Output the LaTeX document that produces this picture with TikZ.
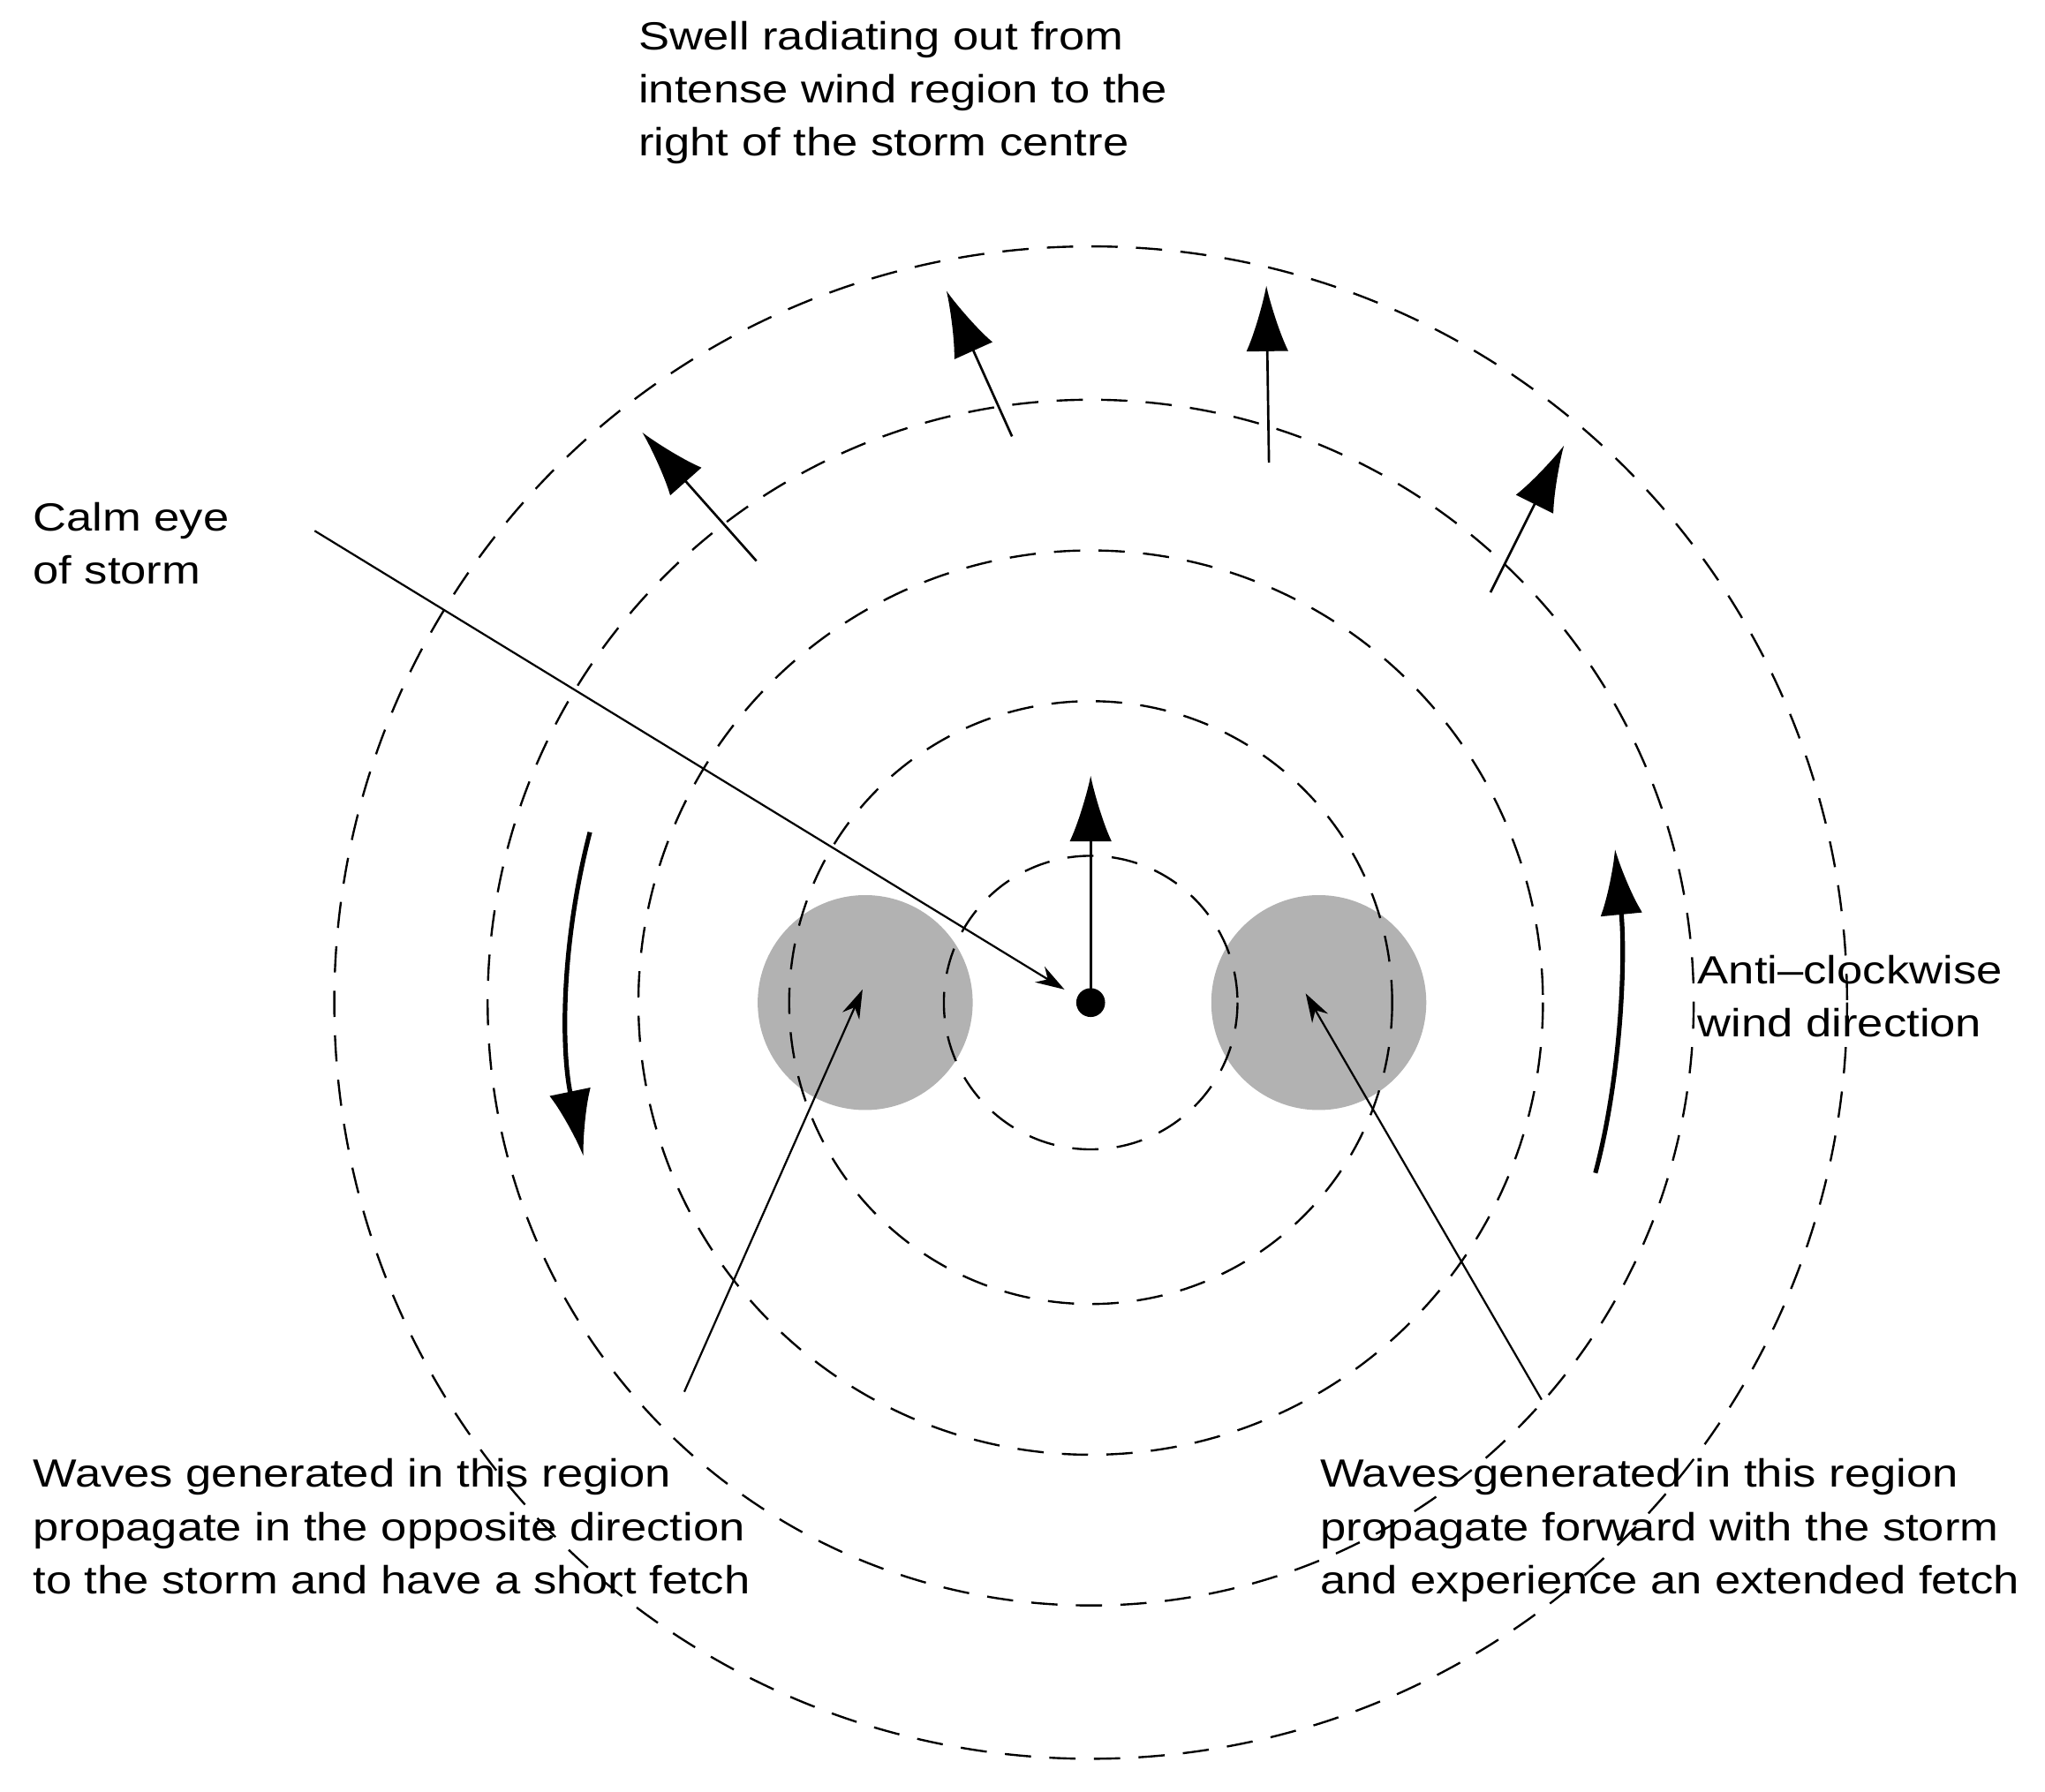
\documentclass[tikz,border=0pt]{standalone}
\usepackage{fontspec}
\setmainfont{Liberation Sans}[FakeStretch=1.18]
\usetikzlibrary{arrows.meta}
\begin{document}
\begin{tikzpicture}[x=1pt,y=-1pt,
  ring/.style={draw,line width=1.6pt,dash pattern=on 20pt off 14pt},
  big/.style={line width=1.8pt,-{Latex[length=50pt,width=32pt]}},
  curv/.style={line width=3.5pt,-{Latex[length=50pt,width=32pt]}},
  lead/.style={line width=1.5pt,-{Stealth[length=22pt,width=14pt]}},
  lab/.style={align=left,anchor=north west,inner sep=0pt,font=\fontsize{30}{40.5}\selectfont}]
\useasboundingbox (0,0) rectangle (1560,1366.7);
\coordinate (c) at (832,765);
\coordinate (g1) at (660,765); \coordinate (g2) at (1006,765);
\fill[gray!60] (g1) circle (82);
\fill[gray!60] (g2) circle (82);
\foreach \r in {112,230,345,460,577} \draw[ring] (c) circle (\r);
\fill (c) circle (11);
% swell arrows
\coordinate (a1) at (577,428); \coordinate (b1) at (490,330);
\coordinate (a2) at (772,333); \coordinate (b2) at (722,222);
\coordinate (a3) at (968,353); \coordinate (b3) at (966,218);
\coordinate (a4) at (1137,452); \coordinate (b4) at (1193,340);
\foreach \i in {1,...,4} \draw[big] (a\i) -- (b\i);
\coordinate (up) at (832,592);
\draw[big] (c) -- (up);
% wind arrows
\coordinate (l1) at (450,635); \coordinate (l2) at (445,882);
\draw[curv] (l1) .. controls (428,720) and (428,800) .. (l2);
\coordinate (r1) at (1217,895); \coordinate (r2) at (1232,648);
\draw[curv] (r1) .. controls (1237,820) and (1240,730) .. (r2);
% labels
\node[lab] (t1) at (487,16) {Swell radiating out from\\intense wind region to the\\right of the storm centre};
\node[lab] (t2) at (25,383) {Calm eye\\of storm};
\node[lab] (t3) at (1295,729) {Anti\textendash clockwise\\wind direction};
\node[lab] (t4) at (25,1113) {Waves generated in this region\\propagate in the opposite direction\\to the storm and have a short fetch};
\node[lab] (t5) at (1007,1113) {Waves generated in this region\\propagate forward with the storm\\and experience an extended fetch};
\coordinate (e1) at (240,405); \coordinate (e2) at (812,755);
\draw[lead] (e1) -- (e2);
\coordinate (w1) at (522,1062); \coordinate (w2) at (658,755);
\draw[lead] (w1) -- (w2);
\coordinate (v1) at (1176,1068); \coordinate (v2) at (996,758);
\draw[lead] (v1) -- (v2);
\end{tikzpicture}
\end{document}
